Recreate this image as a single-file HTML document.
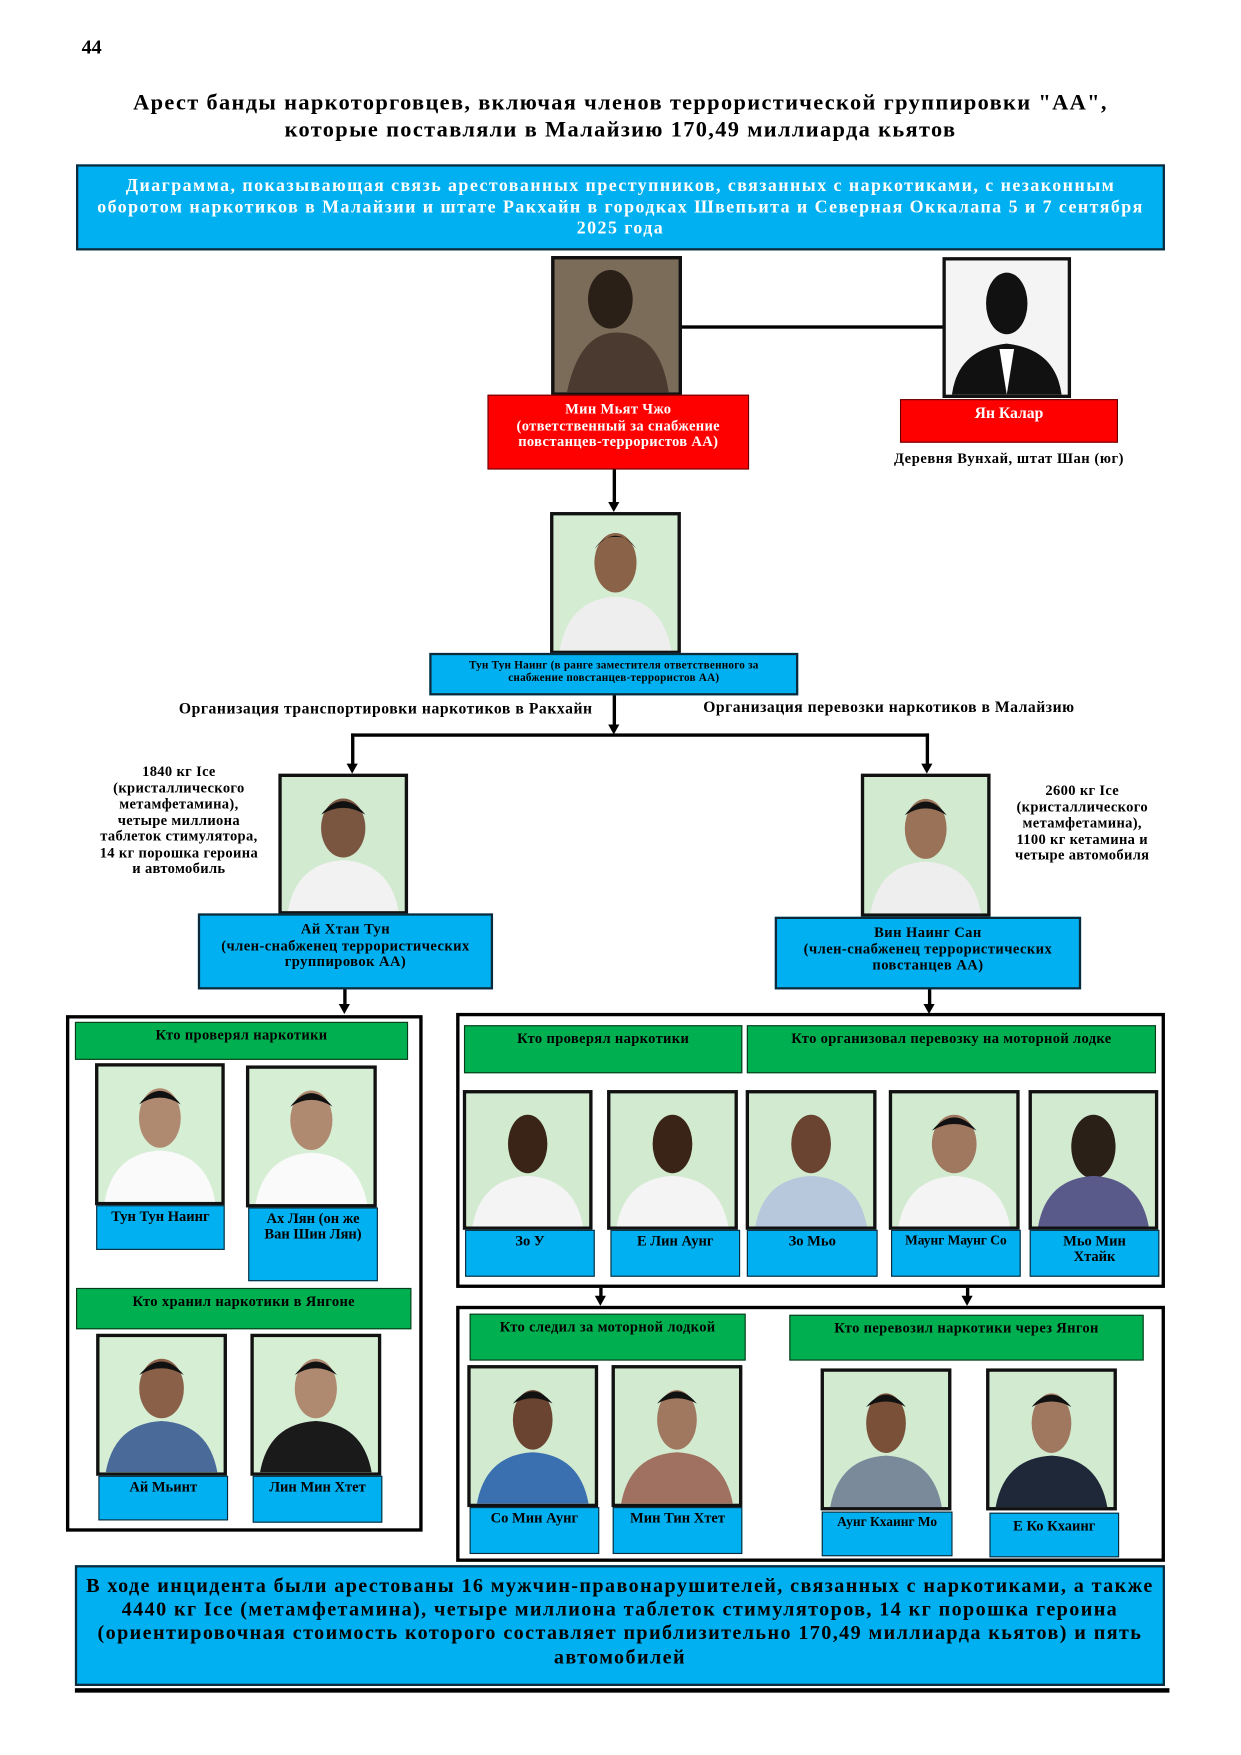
<!DOCTYPE html>
<html><head><meta charset="utf-8">
<style>
html,body{margin:0;padding:0;background:#fff;}
body{width:1241px;height:1755px;overflow:hidden;position:relative;}
#w{position:absolute;left:0;top:0;width:1110px;height:1570px;transform:scale(1.118);transform-origin:0 0;font-family:"Liberation Serif",serif;font-weight:bold;}
.a{position:absolute;box-sizing:border-box;}
.t{text-align:center;line-height:1.12;}
.blue{background:#00b0f0;border:2px solid #0c2a3a;}
.green{background:#00b050;border:1.5px solid #0a3a1a;color:#000;font-size:13px;padding-top:3px;text-align:center;letter-spacing:0.3px;}
.red{background:#ff0000;border:1.5px solid #600;color:#fff;}
.lab{background:#00b0f0;border:1.5px solid #0c2a3a;color:#000;font-size:13px;text-align:center;padding-top:2px;line-height:1.1;}
.ph{border:3px solid #111;background:#cfe6cc;overflow:hidden;}
.ph svg{width:100%;height:100%;display:block;}
.box{border:3px solid #000;}
.hl{position:absolute;background:#000;}
.arr{position:absolute;width:0;height:0;border-left:5px solid transparent;border-right:5px solid transparent;border-top:9px solid #000;}
.txt{position:absolute;font-size:13px;color:#000;text-align:center;line-height:1.12;}
</style></head><body><div id="w">
<div class="a" style="left:73px;top:32px;font-size:18px;">44</div>
<div class="a t" style="left:60px;top:80px;width:990px;font-size:20px;line-height:1.2;letter-spacing:1.2px;">Арест банды наркоторговцев, включая членов террористической группировки "АА",<br>которые поставляли в Малайзию 170,49 миллиарда кьятов</div>
<div class="a blue t" style="left:68px;top:147px;width:974px;height:77px;color:#fff;font-size:16px;padding-top:8px;line-height:1.2;letter-spacing:1.3px;white-space:nowrap;">Диаграмма, показывающая связь арестованных преступников, связанных с наркотиками, с незаконным<br>оборотом наркотиков в Малайзии и штате Ракхайн в городках Швепьита и Северная Оккалапа 5 и 7 сентября<br>2025 года</div>

<!-- top row -->
<div class="hl" style="left:610px;top:291px;width:234px;height:3px;"></div>
<div class="a ph" style="left:493px;top:229px;width:117px;height:125px;background:#6b6050;"><svg viewBox="0 0 100 100" preserveAspectRatio="none"><rect width="100" height="100" fill="#7a6c58"/><ellipse cx="45" cy="30" rx="18" ry="22" fill="#2a2018"/><path d="M10 100 Q20 55 50 55 Q85 55 92 100Z" fill="#4a3a30"/></svg></div>
<div class="a ph" style="left:843px;top:230px;width:115px;height:126px;background:#fff;"><svg viewBox="0 0 100 100" preserveAspectRatio="none"><rect width="100" height="100" fill="#f4f4f4"/><ellipse cx="50" cy="32" rx="17" ry="23" fill="#111"/><path d="M5 100 Q10 66 50 62 Q90 66 95 100Z" fill="#111"/><path d="M44 66 L50 100 L56 66Z" fill="#fff"/></svg></div>
<div class="a red t" style="left:436px;top:353px;width:234px;height:67px;font-size:13px;padding-top:5px;letter-spacing:0.3px;">Мин Мьят Чжо<br>(ответственный за снабжение<br>повстанцев-террористов АА)</div>
<div class="a red t" style="left:805px;top:357px;width:195px;height:39px;font-size:14px;padding-top:5px;">Ян Калар</div>
<div class="txt" style="left:770px;top:403px;width:265px;letter-spacing:0.5px;">Деревня Вунхай, штат Шан (юг)</div>
<div class="hl" style="left:548px;top:420px;width:3px;height:30px;"></div><div class="arr" style="left:544px;top:449px;"></div>

<div class="a ph" style="left:492px;top:458px;width:117px;height:127px;"><svg viewBox="0 0 100 100" preserveAspectRatio="none"><rect width="100" height="100" fill="#d4ecd2"/><ellipse cx="50" cy="35" rx="17" ry="22" fill="#8a6248"/><path d="M33 25 Q50 5 67 25 Q60 15 50 16 Q40 15 33 25Z" fill="#111"/><path d="M5 100 Q12 62 50 60 Q88 62 95 100Z" fill="#eee"/></svg></div>
<div class="a blue t" style="left:384px;top:584px;width:330px;height:38px;font-size:10px;padding-top:4px;color:#000;letter-spacing:0.2px;">Тун Тун Наинг (в ранге заместителя ответственного за<br>снабжение повстанцев-террористов АА)</div>
<div class="txt" style="left:160px;top:627px;font-size:14px;white-space:nowrap;letter-spacing:0.5px;">Организация транспортировки наркотиков в Ракхайн</div>
<div class="txt" style="left:629px;top:626px;font-size:14px;white-space:nowrap;letter-spacing:0.45px;">Организация перевозки наркотиков в Малайзию</div>
<div class="hl" style="left:548px;top:622px;width:3px;height:28px;"></div><div class="arr" style="left:544px;top:648px;"></div>
<div class="hl" style="left:314px;top:656px;width:517px;height:3px;"></div>
<div class="hl" style="left:314px;top:656px;width:3px;height:28px;"></div><div class="arr" style="left:310px;top:683px;"></div>
<div class="hl" style="left:828px;top:656px;width:3px;height:28px;"></div><div class="arr" style="left:824px;top:683px;"></div>

<div class="txt" style="left:70px;top:683px;width:180px;letter-spacing:0.3px;">1840 кг Ice<br>(кристаллического<br>метамфетамина),<br>четыре миллиона<br>таблеток стимулятора,<br>14 кг порошка героина<br>и автомобиль</div>
<div class="a ph" style="left:249px;top:692px;width:116px;height:126px;"><svg viewBox="0 0 100 100" preserveAspectRatio="none"><rect width="100" height="100" fill="#d2ead0"/><ellipse cx="50" cy="38" rx="18" ry="22" fill="#7a5540"/><path d="M32 28 Q50 8 68 28 Q50 18 32 28Z" fill="#111"/><path d="M5 100 Q12 64 50 62 Q88 64 95 100Z" fill="#f2f2f2"/></svg></div>
<div class="a blue t" style="left:177px;top:817px;width:264px;height:68px;font-size:13px;padding-top:5px;color:#000;letter-spacing:0.4px;">Ай Хтан Тун<br>(член-снабженец террористических<br>группировок АА)</div>

<div class="txt" style="left:893px;top:700px;width:150px;letter-spacing:0.3px;">2600 кг Ice<br>(кристаллического<br>метамфетамина),<br>1100 кг кетамина и<br>четыре автомобиля</div>
<div class="a ph" style="left:770px;top:692px;width:116px;height:128px;"><svg viewBox="0 0 100 100" preserveAspectRatio="none"><rect width="100" height="100" fill="#d2ead0"/><ellipse cx="50" cy="38" rx="17" ry="22" fill="#9a7258"/><path d="M33 28 Q50 8 67 28 Q50 18 33 28Z" fill="#111"/><path d="M5 100 Q12 64 50 62 Q88 64 95 100Z" fill="#eee"/></svg></div>
<div class="a blue t" style="left:693px;top:820px;width:274px;height:65px;font-size:13px;padding-top:5px;color:#000;letter-spacing:0.4px;">Вин Наинг Сан<br>(член-снабженец террористических<br>повстанцев АА)</div>
<div class="hl" style="left:307px;top:885px;width:3px;height:14px;"></div><div class="arr" style="left:303px;top:898px;"></div>
<div class="hl" style="left:830px;top:885px;width:3px;height:14px;"></div><div class="arr" style="left:826px;top:898px;"></div>

<!-- left container -->
<div class="a box" style="left:59px;top:908px;width:319px;height:462px;"></div>
<div class="a green" style="left:67px;top:914px;width:298px;height:34px;">Кто проверял наркотики</div>
<div class="a ph" style="left:85px;top:951px;width:116px;height:127px;"><svg viewBox="0 0 100 100" preserveAspectRatio="none"><rect width="100" height="100" fill="#d6eed4"/><ellipse cx="50" cy="38" rx="17" ry="22" fill="#b08a70"/><path d="M33 28 Q50 8 67 28 Q50 18 33 28Z" fill="#111"/><path d="M5 100 Q12 64 50 62 Q88 64 95 100Z" fill="#fafafa"/></svg></div>
<div class="a ph" style="left:220px;top:953px;width:117px;height:127px;"><svg viewBox="0 0 100 100" preserveAspectRatio="none"><rect width="100" height="100" fill="#d6eed4"/><ellipse cx="50" cy="38" rx="17" ry="22" fill="#b08a70"/><path d="M33 28 Q50 8 67 28 Q50 18 33 28Z" fill="#111"/><path d="M5 100 Q12 64 50 62 Q88 64 95 100Z" fill="#fafafa"/></svg></div>
<div class="a lab" style="left:86px;top:1078px;width:115px;height:40px;">Тун Тун Наинг</div>
<div class="a lab" style="left:222px;top:1080px;width:116px;height:66px;">Ах Лян (он же<br>Ван Шин Лян)</div>
<div class="a green" style="left:68px;top:1152px;width:300px;height:37px;">Кто хранил наркотики в Янгоне</div>
<div class="a ph" style="left:86px;top:1193px;width:117px;height:127px;"><svg viewBox="0 0 100 100" preserveAspectRatio="none"><rect width="100" height="100" fill="#d6eed4"/><ellipse cx="50" cy="38" rx="18" ry="22" fill="#8a6048"/><path d="M32 28 Q50 8 68 28 Q50 18 32 28Z" fill="#111"/><path d="M5 100 Q12 64 50 62 Q88 64 95 100Z" fill="#4a6a9a"/></svg></div>
<div class="a ph" style="left:224px;top:1193px;width:117px;height:127px;"><svg viewBox="0 0 100 100" preserveAspectRatio="none"><rect width="100" height="100" fill="#d6eed4"/><ellipse cx="50" cy="38" rx="17" ry="22" fill="#b08a70"/><path d="M33 28 Q50 8 67 28 Q50 18 33 28Z" fill="#111"/><path d="M5 100 Q12 64 50 62 Q88 64 95 100Z" fill="#1a1a1a"/></svg></div>
<div class="a lab" style="left:88px;top:1320px;width:116px;height:40px;">Ай Мьинт</div>
<div class="a lab" style="left:226px;top:1320px;width:116px;height:42px;">Лин Мин Хтет</div>

<!-- right top container -->
<div class="a box" style="left:408px;top:906px;width:634px;height:246px;"></div>
<div class="a green" style="left:415px;top:917px;width:249px;height:43px;">Кто проверял наркотики</div>
<div class="a green" style="left:668px;top:917px;width:366px;height:43px;">Кто организовал перевозку на моторной лодке</div>
<div class="a ph" style="left:414px;top:975px;width:116px;height:125px;"><svg viewBox="0 0 100 100" preserveAspectRatio="none"><rect width="100" height="100" fill="#d2ead0"/><ellipse cx="50" cy="38" rx="16" ry="22" fill="#3a2418"/><path d="M5 100 Q12 64 50 62 Q88 64 95 100Z" fill="#f4f4f4"/></svg></div>
<div class="a ph" style="left:543px;top:975px;width:117px;height:125px;"><svg viewBox="0 0 100 100" preserveAspectRatio="none"><rect width="100" height="100" fill="#d2ead0"/><ellipse cx="50" cy="38" rx="16" ry="22" fill="#3a2418"/><path d="M5 100 Q12 64 50 62 Q88 64 95 100Z" fill="#f4f4f4"/></svg></div>
<div class="a ph" style="left:667px;top:975px;width:117px;height:125px;"><svg viewBox="0 0 100 100" preserveAspectRatio="none"><rect width="100" height="100" fill="#d2ead0"/><ellipse cx="50" cy="38" rx="16" ry="22" fill="#6a4430"/><path d="M5 100 Q12 64 50 62 Q88 64 95 100Z" fill="#b8c8dc"/></svg></div>
<div class="a ph" style="left:795px;top:975px;width:117px;height:125px;"><svg viewBox="0 0 100 100" preserveAspectRatio="none"><rect width="100" height="100" fill="#d2ead0"/><ellipse cx="50" cy="38" rx="18" ry="22" fill="#a07860"/><path d="M32 28 Q50 8 68 28 Q50 18 32 28Z" fill="#111"/><path d="M5 100 Q12 64 50 62 Q88 64 95 100Z" fill="#f4f4f4"/></svg></div>
<div class="a ph" style="left:920px;top:975px;width:116px;height:125px;"><svg viewBox="0 0 100 100" preserveAspectRatio="none"><rect width="100" height="100" fill="#d2ead0"/><ellipse cx="50" cy="40" rx="18" ry="24" fill="#2a2018"/><path d="M5 100 Q12 64 50 62 Q88 64 95 100Z" fill="#5a5a8a"/></svg></div>
<div class="a lab" style="left:416px;top:1100px;width:116px;height:42px;">Зо У</div>
<div class="a lab" style="left:546px;top:1100px;width:116px;height:42px;">Е Лин Аунг</div>
<div class="a lab" style="left:668px;top:1100px;width:117px;height:42px;">Зо Мьо</div>
<div class="a lab" style="left:797px;top:1100px;width:116px;height:42px;font-size:12px;">Маунг Маунг Со</div>
<div class="a lab" style="left:921px;top:1100px;width:116px;height:42px;">Мьо Мин<br>Хтайк</div>
<div class="hl" style="left:536px;top:1152px;width:3px;height:8px;"></div><div class="arr" style="left:532px;top:1159px;"></div>
<div class="hl" style="left:864px;top:1152px;width:3px;height:8px;"></div><div class="arr" style="left:860px;top:1159px;"></div>

<!-- right bottom container -->
<div class="a box" style="left:408px;top:1168px;width:634px;height:229px;"></div>
<div class="a green" style="left:420px;top:1175px;width:247px;height:42px;">Кто следил за моторной лодкой</div>
<div class="a green" style="left:706px;top:1176px;width:317px;height:41px;">Кто перевозил наркотики через Янгон</div>
<div class="a ph" style="left:418px;top:1221px;width:117px;height:127px;"><svg viewBox="0 0 100 100" preserveAspectRatio="none"><rect width="100" height="100" fill="#d2ead0"/><ellipse cx="50" cy="38" rx="16" ry="22" fill="#6a4430"/><path d="M34 26 Q50 8 66 26 Q50 18 34 26Z" fill="#111"/><path d="M5 100 Q12 64 50 62 Q88 64 95 100Z" fill="#3a70b0"/></svg></div>
<div class="a ph" style="left:547px;top:1221px;width:117px;height:127px;"><svg viewBox="0 0 100 100" preserveAspectRatio="none"><rect width="100" height="100" fill="#d2ead0"/><ellipse cx="50" cy="38" rx="16" ry="22" fill="#a07860"/><path d="M34 26 Q50 8 66 26 Q50 18 34 26Z" fill="#111"/><path d="M5 100 Q12 64 50 62 Q88 64 95 100Z" fill="#a07060"/></svg></div>
<div class="a ph" style="left:734px;top:1224px;width:117px;height:127px;"><svg viewBox="0 0 100 100" preserveAspectRatio="none"><rect width="100" height="100" fill="#d2ead0"/><ellipse cx="50" cy="38" rx="16" ry="22" fill="#7a5038"/><path d="M34 26 Q50 8 66 26 Q50 18 34 26Z" fill="#111"/><path d="M5 100 Q12 64 50 62 Q88 64 95 100Z" fill="#7a8a9a"/></svg></div>
<div class="a ph" style="left:882px;top:1224px;width:117px;height:127px;"><svg viewBox="0 0 100 100" preserveAspectRatio="none"><rect width="100" height="100" fill="#d2ead0"/><ellipse cx="50" cy="38" rx="16" ry="22" fill="#a07860"/><path d="M34 26 Q50 8 66 26 Q50 18 34 26Z" fill="#111"/><path d="M5 100 Q12 64 50 62 Q88 64 95 100Z" fill="#1e2838"/></svg></div>
<div class="a lab" style="left:420px;top:1348px;width:116px;height:42px;">Со Мин Аунг</div>
<div class="a lab" style="left:548px;top:1348px;width:116px;height:42px;">Мин Тин Хтет</div>
<div class="a lab" style="left:735px;top:1352px;width:117px;height:40px;font-size:12px;">Аунг Кхаинг Мо</div>
<div class="a lab" style="left:885px;top:1353px;width:116px;height:40px;padding-top:4px;">Е Ко Кхаинг</div>

<div class="a blue t" style="left:67px;top:1400px;width:975px;height:108px;font-size:18px;color:#000;padding-top:6px;line-height:1.18;letter-spacing:1.25px;white-space:nowrap;">В ходе инцидента были арестованы 16 мужчин-правонарушителей, связанных с наркотиками, а также<br>4440 кг Ice (метамфетамина), четыре миллиона таблеток стимуляторов, 14 кг порошка героина<br>(ориентировочная стоимость которого составляет приблизительно 170,49 миллиарда кьятов) и пять<br>автомобилей</div>
<div class="hl" style="left:67px;top:1510px;width:979px;height:4px;"></div>
</div></body></html>
